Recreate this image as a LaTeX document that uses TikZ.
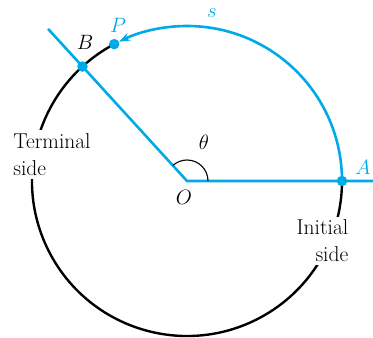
\documentclass[tikz,border=0pt]{standalone}
\usetikzlibrary{arrows.meta}
\definecolor{cy}{RGB}{0,170,230}
\begin{document}
\begin{tikzpicture}[x=1pt,y=1pt,
  lbl/.style={font=\fontsize{22}{26}\selectfont, inner sep=0pt},
  sidelbl/.style={font=\fontsize{21.5}{27}\selectfont, fill=white, inner sep=3pt},
  blueline/.style={draw=cy, line width=2.6pt},
  dot/.style={circle, fill=cy, inner sep=0pt, minimum size=10.5pt}]
\useasboundingbox (0,0) rectangle (373,338);
\coordinate (O) at (187,157);
\coordinate (A) at (342,157);
\coordinate (E) at (373,157);
\path (O) ++(132.4:155) coordinate (B);
\path (O) ++(118:155) coordinate (P);
\path (O) ++(132.4:206) coordinate (T);
% black circle part
\draw[line width=2.4pt] (P) arc[start angle=118, end angle=360, radius=155];
% blue arc s
\draw[blueline, -{Stealth[length=11pt,width=8pt]}] (A) arc[start angle=0, end angle=116, radius=155];
% sides
\draw[blueline] (T) -- (O) -- (E);
% angle arc
\draw[line width=1.1pt] (O) ++(0:21) arc[start angle=0, end angle=132.4, radius=21];
% dots
\node[dot] (Bd) at (B) {};
\node[dot] (Pd) at (P) {};
\node[dot] (Ad) at (A) {};
% labels
\node[lbl] (Bl) at (85,296) {$B$};
\node[lbl, text=cy] (Pl) at (118,313) {$P$};
\node[lbl, text=cy] (sl) at (212,325) {$s$};
\node[lbl, text=cy] (Al) at (363,171) {$A$};
\node[lbl] (th) at (204,196) {$\theta$};
\node[lbl] (Ol) at (184,141) {$O$};
\node[sidelbl, align=left] (term) at (52,183.5) {Terminal\\side};
\node[sidelbl, align=right] (init) at (322.5,97) {Initial\\side};
\end{tikzpicture}
\end{document}
